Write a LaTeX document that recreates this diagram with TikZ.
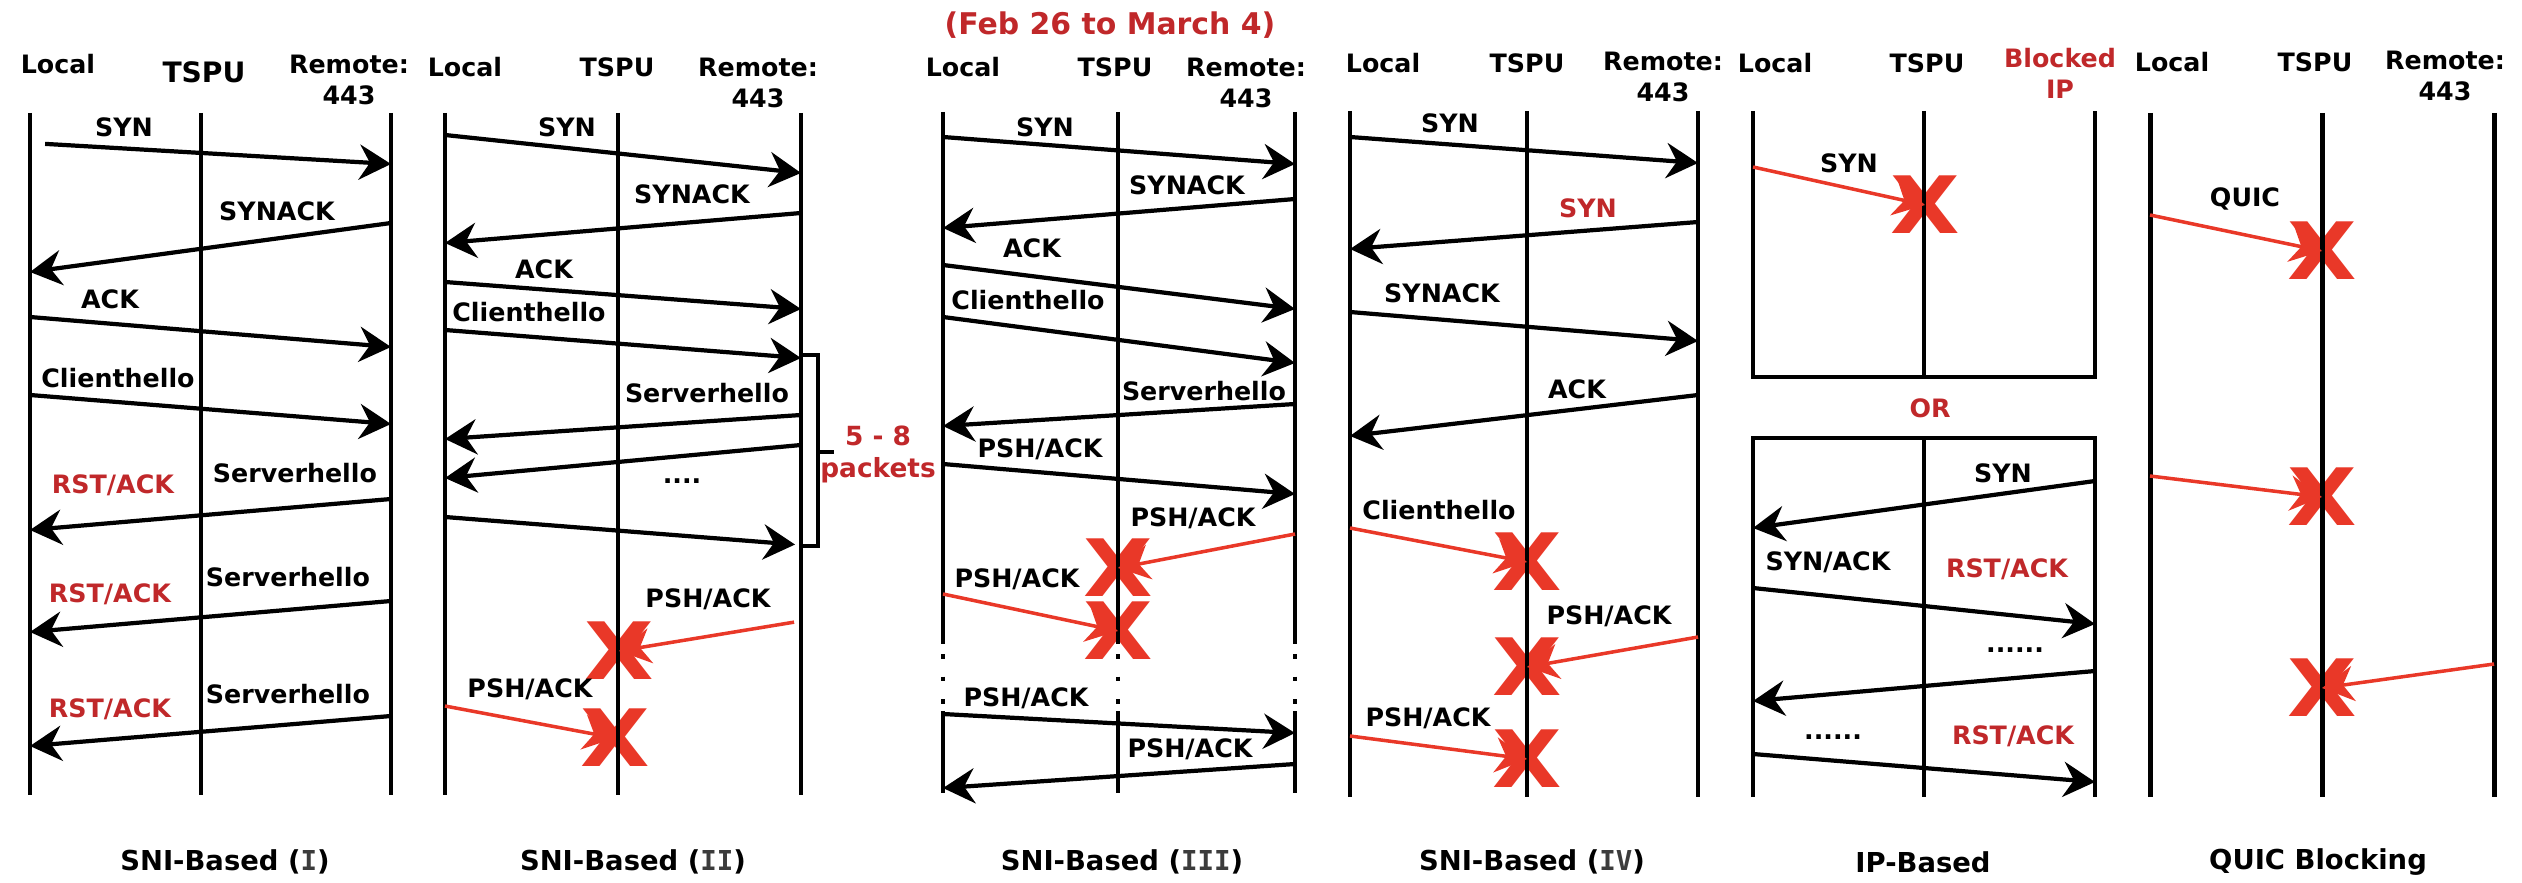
\documentclass[tikz,border=0pt]{standalone}
\usepackage{fontspec}
\setmainfont{DejaVu Sans}
\newfontfamily\numfont{DejaVu Sans Mono}
\usetikzlibrary{arrows.meta,positioning}
\definecolor{lblred}{RGB}{192,40,42}
\definecolor{dropred}{RGB}{233,56,40}
\definecolor{numgray}{RGB}{60,60,60}
\tikzset{
  life/.style={line width=1.4pt},
  msg/.style={line width=1.2pt,-{Stealth[length=9pt,width=10pt,inset=3pt]}},
  drop/.style={dropred,line width=1pt,-{Stealth[length=9pt,width=10pt,inset=3pt]}},
  lbl/.style={inner sep=0pt,align=center,font=\bfseries\fontsize{7.2}{8.8}\selectfont},
  rlbl/.style={lbl,text=lblred},
  capt/.style={inner sep=0pt,font=\bfseries\fontsize{7.8}{9}\selectfont},
  xmark/.style={inner sep=0pt,text=dropred,font=\bfseries\fontsize{22.5}{22.5}\selectfont}
}
\newcommand{\rom}[1]{{\numfont\color{numgray}#1}}
\newcommand{\cross}{\scalebox{1.14}[1]{X}}

\begin{document}
\begin{tikzpicture}[x=0.01cm,y=-0.01cm]
  \useasboundingbox (0,0) rectangle (2522,882);
  % lifelines
  \foreach \n/\x in {L1/30,T1/201,R1/391,L2/445,T2/618,R2/801,L3/943,T3/1118,R3/1295,
                     L4/1350,T4/1527,R4/1698,L5/1753,T5/1924,R5/2095,L6/2150,T6/2322,R6/2494}
    \coordinate (\n) at (\x,0);

  % drops, under the lifelines
  \node[xmark] (xA) at (619,651) {\cross};
  \node[xmark] (xB) at (615,738) {\cross};
  \node[xmark] (xC) at (1118,568) {\cross};
  \node[xmark] (xD) at (1118,631) {\cross};
  \node[xmark] (xE) at (1527,562) {\cross};
  \node[xmark] (xF) at (1527,667) {\cross};
  \node[xmark] (xG) at (1527,759) {\cross};
  \node[xmark] (xH) at (1925,205) {\cross};
  \node[xmark] (xI) at (2322,251) {\cross};
  \node[xmark] (xJ) at (2322,497) {\cross};
  \node[xmark] (xK) at (2322,688) {\cross};

  \foreach \n/\a/\b in {L1/113/795,T1/113/795,R1/113/795,L2/113/795,T2/113/795,R2/113/795,
                        L4/111/797,T4/111/797,R4/111/797,L6/113/797,T6/113/797,R6/113/797}
    \draw[life] (\n |- 0,\a) -- (\n |- 0,\b);
  \foreach \n in {L3,T3,R3}{
    \draw[life] (\n |- 0,112) -- (\n |- 0,644);
    \draw[life,dash pattern=on 1.3pt off 5.1pt] (\n |- 0,654) -- (\n |- 0,704);
    \draw[life] (\n |- 0,711) -- (\n |- 0,793);
  }
  \draw[life] (L5 |- 0,111) -- (L5 |- 0,377) -- (R5 |- 0,377) -- (R5 |- 0,111);
  \draw[life] (T5 |- 0,111) -- (T5 |- 0,377);
  \draw[life] (L5 |- 0,797) -- (L5 |- 0,438) -- (R5 |- 0,438) -- (R5 |- 0,797);
  \draw[life] (T5 |- 0,438) -- (T5 |- 0,797);

  % SNI-Based (I)
  \node[lbl] (loc1) at (58,64) {Local};
  \node[lbl,font=\bfseries\fontsize{8}{9}\selectfont] (tspu1) at (204,72) {TSPU};
  \node[lbl] (rem1) at (349,79.5) {Remote:\\443};
  \draw[msg,shorten <=4.3pt] (L1 |- 0,143) -- (R1 |- 0,164);
  \node[lbl] (syn1) at (124,127) {SYN};
  \draw[msg] (R1 |- 0,223) -- (L1 |- 0,272);
  \node[lbl] (synack1) at (277,211) {SYNACK};
  \draw[msg] (L1 |- 0,317) -- (R1 |- 0,347);
  \node[lbl] (ack1) at (110,299) {ACK};
  \draw[msg] (L1 |- 0,395) -- (R1 |- 0,424);
  \node[lbl] (ch1) at (118,378) {Clienthello};
  \draw[msg] (R1 |- 0,499) -- (L1 |- 0,530);
  \node[lbl] (sh1a) at (295,473) {Serverhello};
  \node[rlbl] (rst1a) at (113,485) {RST/ACK};
  \draw[msg] (R1 |- 0,601) -- (L1 |- 0,632);
  \node[lbl] (sh1b) at (288,577) {Serverhello};
  \node[rlbl] (rst1b) at (110,594) {RST/ACK};
  \draw[msg] (R1 |- 0,716) -- (L1 |- 0,746);
  \node[lbl] (sh1c) at (288,694) {Serverhello};
  \node[rlbl] (rst1c) at (110,709) {RST/ACK};
  \node[capt] (cap1) at (225,862) {SNI-Based (\rom{I})};

  % SNI-Based (II)
  \node[lbl] (loc2) at (465,67) {Local};
  \node[lbl] (tspu2) at (617,67) {TSPU};
  \node[lbl] (rem2) at (758,82.5) {Remote:\\443};
  \draw[msg] (L2 |- 0,135) -- (R2 |- 0,173);
  \node[lbl] (syn2) at (567,127) {SYN};
  \draw[msg] (R2 |- 0,213) -- (L2 |- 0,243);
  \node[lbl] (synack2) at (692,194) {SYNACK};
  \draw[msg] (L2 |- 0,282) -- (R2 |- 0,309);
  \node[lbl] (ack2) at (544,269) {ACK};
  \draw[msg] (L2 |- 0,330) -- (R2 |- 0,358);
  \node[lbl] (ch2) at (529,312) {Clienthello};
  \draw[msg] (R2 |- 0,415) -- (L2 |- 0,439);
  \node[lbl] (sh2) at (707,393) {Serverhello};
  \draw[msg] (R2 |- 0,445) -- (L2 |- 0,478);
  \node[lbl] (dots2) at (682,481) {....};
  \draw[msg,shorten >=1.7pt] (L2 |- 0,517) -- (R2 |- 0,545);
  \draw[line width=1.2pt] (R2 |- 0,355) -- (818,355) -- (818,546) -- (R2 |- 0,546);
  \draw[line width=1.2pt] (818,452) -- (834,452);
  \node[rlbl,font=\bfseries\fontsize{7.5}{9.1}\selectfont] (pkts) at (878,454) {5 - 8\\packets};
  \draw[drop,shorten <=2pt] (R2 |- 0,621) -- (xA.center);
  \node[lbl] (psh2a) at (708,599) {PSH/ACK};
  \draw[drop] (L2 |- 0,706) -- (xB.center);
  \node[lbl] (psh2b) at (530,689) {PSH/ACK};
  \node[capt] (cap2) at (633,862) {SNI-Based (\rom{II})};

  % SNI-Based (III)
  \node[rlbl,font=\bfseries\fontsize{8.5}{10}\selectfont] (dates) at (1110,25) {(Feb 26 to March 4)};
  \node[lbl] (loc3) at (963,67) {Local};
  \node[lbl] (tspu3) at (1115,67) {TSPU};
  \node[lbl] (rem3) at (1246,82.5) {Remote:\\443};
  \draw[msg] (L3 |- 0,137) -- (R3 |- 0,164);
  \node[lbl] (syn3) at (1045,127) {SYN};
  \draw[msg] (R3 |- 0,199) -- (L3 |- 0,228);
  \node[lbl] (synack3) at (1187,185) {SYNACK};
  \draw[msg] (L3 |- 0,265) -- (R3 |- 0,309);
  \node[lbl] (ack3) at (1032,248) {ACK};
  \draw[msg] (L3 |- 0,317) -- (R3 |- 0,363);
  \node[lbl] (ch3) at (1028,300) {Clienthello};
  \draw[msg] (R3 |- 0,404) -- (L3 |- 0,426);
  \node[lbl] (sh3) at (1204,391) {Serverhello};
  \draw[msg] (L3 |- 0,464) -- (R3 |- 0,494);
  \node[lbl] (psh3a) at (1040,449) {PSH/ACK};
  \draw[drop] (R3 |- 0,534) -- (xC.center);
  \node[lbl] (psh3b) at (1193,518) {PSH/ACK};
  \draw[drop] (L3 |- 0,594) -- (xD.center);
  \node[lbl] (psh3c) at (1017,579) {PSH/ACK};
  \draw[msg] (L3 |- 0,714) -- (R3 |- 0,733);
  \node[lbl] (psh3d) at (1026,698) {PSH/ACK};
  \draw[msg] (R3 |- 0,764) -- (L3 |- 0,788);
  \node[lbl] (psh3e) at (1190,749) {PSH/ACK};
  \node[capt] (cap3) at (1122,862) {SNI-Based (\rom{III})};

  % SNI-Based (IV)
  \node[lbl] (loc4) at (1383,63) {Local};
  \node[lbl] (tspu4) at (1527,63) {TSPU};
  \node[lbl] (rem4) at (1663,77) {Remote:\\443};
  \draw[msg] (L4 |- 0,137) -- (R4 |- 0,163);
  \node[lbl] (syn4a) at (1450,123) {SYN};
  \draw[msg] (R4 |- 0,222) -- (L4 |- 0,249);
  \node[rlbl] (syn4b) at (1588,208) {SYN};
  \draw[msg] (L4 |- 0,312) -- (R4 |- 0,341);
  \node[lbl] (synack4) at (1442,293) {SYNACK};
  \draw[msg] (R4 |- 0,395) -- (L4 |- 0,436);
  \node[lbl] (ack4) at (1577,389) {ACK};
  \draw[drop] (L4 |- 0,528) -- (xE.center);
  \node[lbl] (ch4) at (1439,510) {Clienthello};
  \draw[drop] (R4 |- 0,637) -- (xF.center);
  \node[lbl] (psh4a) at (1609,616) {PSH/ACK};
  \draw[drop] (L4 |- 0,736) -- (xG.center);
  \node[lbl] (psh4b) at (1428,718) {PSH/ACK};
  \node[capt] (cap4) at (1532,862) {SNI-Based (\rom{IV})};

  % IP-Based
  \node[lbl] (loc5) at (1775,63) {Local};
  \node[lbl] (tspu5) at (1927,63) {TSPU};
  \node[rlbl] (blk5) at (2060,73.5) {Blocked\\IP};
  \draw[drop] (L5 |- 0,167) -- (xH.center);
  \node[lbl] (syn5a) at (1849,163) {SYN};
  \node[rlbl] (or5) at (1930,408) {OR};
  \draw[msg] (R5 |- 0,481) -- (L5 |- 0,528);
  \node[lbl] (syn5b) at (2003,473) {SYN};
  \draw[msg] (L5 |- 0,588) -- (R5 |- 0,624);
  \node[lbl] (synack5) at (1828,562) {SYN/ACK};
  \node[rlbl] (rst5a) at (2007,569) {RST/ACK};
  \draw[msg] (R5 |- 0,671) -- (L5 |- 0,701);
  \node[lbl] (dots5a) at (2015,650) {......};
  \draw[msg] (L5 |- 0,754) -- (R5 |- 0,782);
  \node[lbl] (dots5b) at (1833,737) {......};
  \node[rlbl] (rst5b) at (2013,736) {RST/ACK};
  \node[capt] (cap5) at (1923,862) {IP-Based};

  % QUIC Blocking
  \node[lbl] (loc6) at (2172,62) {Local};
  \node[lbl] (tspu6) at (2315,62) {TSPU};
  \node[lbl] (rem6) at (2445,76) {Remote:\\443};
  \draw[drop] (L6 |- 0,215) -- (xI.center);
  \node[lbl] (quic6) at (2245,199) {QUIC};
  \draw[drop] (L6 |- 0,476) -- (xJ.center);
  \draw[drop] (R6 |- 0,664) -- (xK.center);
  \node[capt] (cap6) at (2318,862) {QUIC Blocking};
\end{tikzpicture}
\end{document}
